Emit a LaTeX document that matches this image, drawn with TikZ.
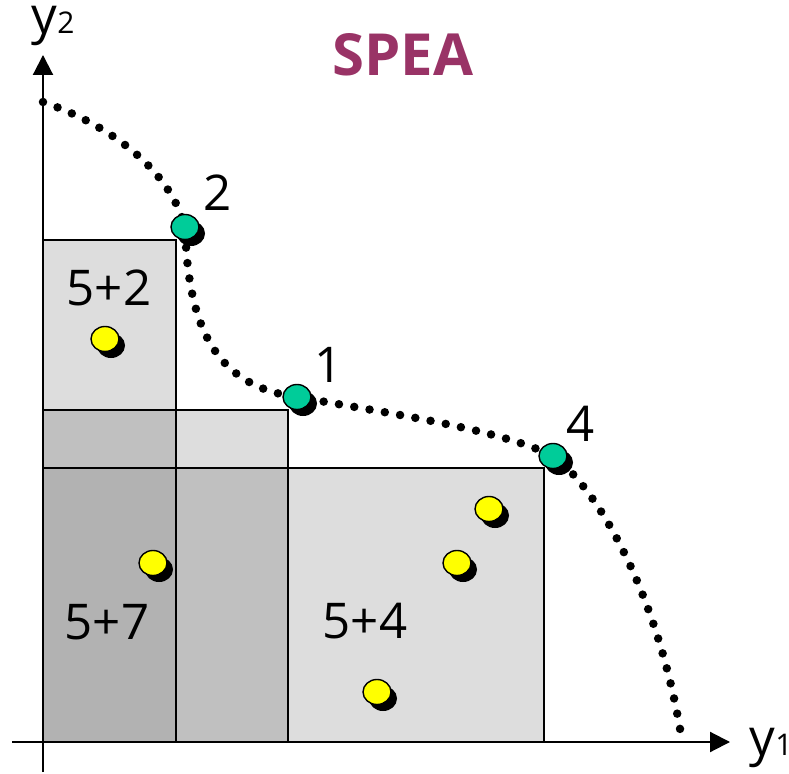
\documentclass[tikz,border=0pt]{standalone}
\usepackage{fontspec}
\setmainfont{Open Sans}
\definecolor{speapurple}{RGB}{153,51,102}
\definecolor{ptgreen}{RGB}{0,204,153}
\definecolor{ptyellow}{RGB}{255,255,0}
\definecolor{boxlight}{RGB}{221,221,221}
\definecolor{boxmid}{RGB}{192,192,192}
\definecolor{boxdark}{RGB}{178,178,178}
\usetikzlibrary{arrows.meta, positioning, shapes.geometric, shadows}

\begin{document}
\begin{tikzpicture}[x=0.01cm, y=-0.01cm,
  pt/.style={ellipse, draw, line width=0.4pt, inner sep=0pt, minimum width=0.28cm, minimum height=0.25cm,
    drop shadow={shadow xshift=0.06cm, shadow yshift=-0.065cm, opacity=1, fill=black}},
  lbl/.style={font=\fontsize{14}{16}\selectfont, inner sep=0pt},
  ax/.style={line width=0.6pt, -{Triangle[length=0.2cm, width=0.2cm]}},
  box/.style={draw, line width=0.5pt},
  dotline/.style={line width=0.085cm, line cap=round, dash pattern=on 0pt off 0.155cm},
]
  \useasboundingbox (0,0) rectangle (789,774);

  % dominated areas
  \fill[boxlight] (43,240) rectangle (176,742);
  \fill[boxlight] (43,410) rectangle (288,742);
  \fill[boxlight] (43,468) rectangle (544,742);
  \fill[boxmid] (43,410) rectangle (176,468);
  \fill[boxmid] (176,468) rectangle (288,742);
  \fill[boxdark] (43,468) rectangle (176,742);
  \draw[box] (43,240) rectangle (176,742);
  \draw[box] (43,410) rectangle (288,742);
  \draw[box] (43,468) rectangle (544,742);

  % axes
  \coordinate (ybot) at (43,772);
  \coordinate (ytop) at (43,55);
  \coordinate (xlft) at (12,742);
  \coordinate (xrgt) at (730,742);
  \draw[ax] (ybot) -- (ytop);
  \draw[ax] (xlft) -- (xrgt);
  \node[font=\fontsize{14.5}{16}\selectfont, inner sep=0pt, anchor=base west] (ylab) at (31,34) {y{\fontsize{8.5}{10}\selectfont 2}};
  \node[font=\fontsize{14.5}{16}\selectfont, inner sep=0pt, anchor=base west] (xlab) at (749,755) {y{\fontsize{8.5}{10}\selectfont 1}};

  % front
  \coordinate (fs) at (43,102);
  \coordinate (c2) at (185,227);
  \coordinate (c1) at (297,397);
  \coordinate (c4) at (553,456);
  \coordinate (fe) at (682,741);
  \draw[dotline] (fs) .. controls (110,125) and (170,170) .. (c2)
    .. controls (188,310) and (205,385) .. (c1)
    .. controls (400,415) and (500,430) .. (c4)
    .. controls (600,490) and (660,600) .. (fe);

  % archive members
  \node[pt, fill=ptgreen] (p2) at (c2) {};
  \node[pt, fill=ptgreen] (p1) at (c1) {};
  \node[pt, fill=ptgreen] (p4) at (c4) {};
  \node[lbl] (l2) at (218,193) {2};
  \node[lbl] (l1) at (329,365) {1};
  \node[lbl] (l4) at (581,424) {4};

  % population members
  \node[pt, fill=ptyellow] (q1) at (105,339) {};
  \node[pt, fill=ptyellow] (q2) at (153,563) {};
  \node[pt, fill=ptyellow] (q3) at (489,509) {};
  \node[pt, fill=ptyellow] (q4) at (457,563) {};
  \node[pt, fill=ptyellow] (q5) at (377,692) {};

  \node[lbl] (t52) at (109,288) {5+2};
  \node[lbl] (t57) at (107,622) {5+7};
  \node[lbl] (t54) at (365,621) {5+4};

  \node[font=\fontsize{16.5}{18}\selectfont\bfseries, text=speapurple] (title) at (403,55) {SPEA};
\end{tikzpicture}
\end{document}
